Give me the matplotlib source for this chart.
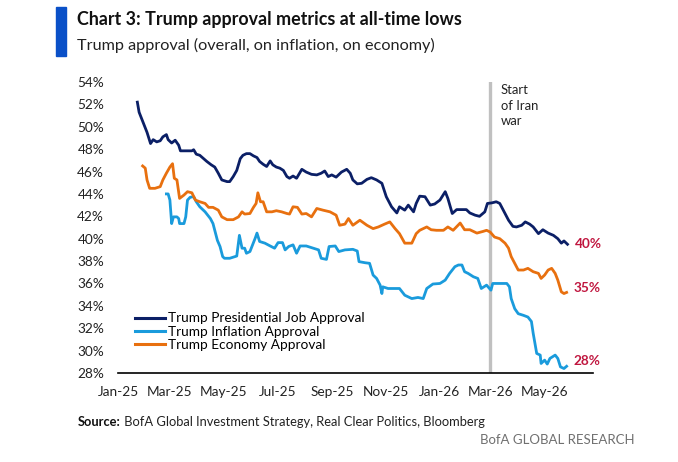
import matplotlib
matplotlib.use("Agg")
import matplotlib.pyplot as plt
import matplotlib.dates as mdates
import pandas as pd
import numpy as np

plt.rcParams['font.family'] = ['Lato', 'DejaVu Sans']

BASE = "2025-01-01"

# Days since 2025-01-01 and approval values (%)
job_days = [22, 24, 27, 29, 33, 37, 40, 44, 48, 51, 55, 57, 61, 65, 69, 71, 78, 84, 86, 89, 93,
            101, 106, 110, 114, 118, 124, 127, 131, 135, 139, 142, 146, 150, 154, 158, 161, 165,
            169, 173, 176, 180, 184, 188, 192, 195, 199, 203, 209, 214, 220, 226, 231, 235, 239,
            243, 248, 254, 260, 264, 267, 272, 277, 283, 288, 294, 300, 305, 311, 317, 320, 326,
            330, 336, 339, 343, 349, 355, 360, 366, 372, 375, 380, 385, 391, 396, 400, 406, 411,
            417, 420, 425, 430, 434, 438, 444, 449, 453, 459, 463, 468, 472, 478, 483, 489, 495,
            500, 504, 507, 511]
job_vals = [52.2, 51.3, 50.7, 50.3, 49.5, 48.5, 48.85, 48.65, 48.75, 49.1, 49.3, 48.85, 48.55,
            48.8, 48.35, 47.85, 47.85, 47.85, 47.95, 47.55, 47.45, 46.9, 46.6, 46.4, 45.85, 45.25,
            45.1, 45.1, 45.55, 46.1, 47.15, 47.45, 47.6, 47.6, 47.4, 47.25, 46.9, 46.65, 46.45,
            46.95, 46.6, 46.4, 46.3, 46.1, 45.55, 45.4, 45.6, 45.4, 46.2, 45.95, 45.75, 45.7,
            45.85, 46.05, 45.55, 45.7, 45.5, 45.95, 46.2, 45.85, 45.25, 44.9, 44.95, 45.3, 45.45,
            45.25, 44.95, 43.75, 42.85, 42.3, 42.85, 42.55, 43.0, 42.4, 43.15, 43.8, 43.75, 43.0,
            43.1, 43.45, 44.2, 43.6, 42.25, 42.6, 42.6, 42.6, 42.3, 42.1, 42.0, 42.4, 43.15, 43.2,
            43.3, 43.15, 42.55, 41.65, 41.1, 41.05, 41.2, 41.5, 41.3, 41.05, 40.45, 40.8, 40.5,
            40.3, 40.0, 39.6, 39.8, 39.5]

econ_days = [28, 31, 33, 36, 42, 48, 51, 55, 59, 62, 64, 67, 70, 75, 79, 84, 88, 93, 99, 103,
             108, 114, 118, 124, 131, 137, 141, 144, 150, 154, 157, 159, 162, 165, 169, 175, 180,
             186, 192, 195, 199, 204, 209, 214, 220, 226, 233, 241, 248, 252, 258, 262, 267, 275,
             283, 290, 296, 303, 309, 315, 320, 326, 334, 339, 343, 351, 356, 362, 370, 375, 381,
             389, 394, 400, 408, 415, 419, 423, 428, 434, 440, 444, 447, 451, 455, 461, 466, 472,
             478, 481, 485, 489, 493, 497, 500, 504, 507, 510]
econ_vals = [46.5, 46.3, 45.25, 44.5, 44.5, 44.65, 45.25, 45.85, 46.4, 46.7, 45.4, 45.25, 43.6,
             43.9, 44.2, 44.1, 43.45, 43.3, 43.15, 42.8, 42.8, 42.55, 41.95, 41.7, 41.7, 41.95,
             42.4, 42.2, 42.25, 42.8, 43.15, 44.1, 43.3, 43.3, 42.4, 42.4, 42.5, 42.4, 42.25, 42.2,
             42.85, 42.8, 42.2, 42.25, 41.95, 42.7, 42.55, 42.4, 42.1, 41.2, 41.3, 41.8, 41.2,
             41.65, 41.2, 40.9, 41.05, 41.3, 41.5, 40.9, 40.45, 39.6, 39.6, 40.45, 40.75, 41.05,
             40.8, 40.75, 40.75, 41.05, 40.75, 41.4, 40.8, 40.8, 40.5, 40.65, 40.75, 40.6, 40.15,
             40.0, 39.6, 39.15, 38.4, 37.8, 37.2, 37.2, 37.35, 37.05, 36.9, 36.45, 36.75, 37.2,
             37.35, 36.9, 36.3, 35.25, 35.1, 35.2]

infl_days = [55, 57, 59, 61, 63, 67, 69, 70, 75, 77, 79, 82, 86, 89, 93, 99, 105, 108, 110, 113,
             116, 119, 121, 127, 135, 138, 141, 144, 146, 150, 156, 158, 161, 167, 173, 178, 182,
             187, 190, 194, 199, 203, 207, 214, 222, 228, 231, 237, 240, 247, 251, 258, 267, 272,
             274, 281, 286, 290, 294, 298, 300, 301, 307, 315, 320, 326, 334, 341, 347, 351, 358,
             366, 372, 377, 383, 387, 391, 394, 398, 404, 409, 413, 419, 424, 426, 434, 442, 445,
             447, 451, 455, 461, 466, 470, 472, 474, 476, 480, 481, 485, 488, 491, 497, 500, 503,
             507, 510]
infl_vals = [44.0, 44.0, 43.45, 41.35, 41.95, 41.95, 41.8, 41.35, 41.35, 41.95, 43.45, 43.7,
             43.75, 43.3, 42.85, 42.4, 41.8, 41.35, 40.75, 39.85, 39.3, 38.4, 38.25, 38.25, 38.45,
             40.3, 39.15, 39.15, 38.7, 38.85, 40.05, 40.5, 39.75, 39.6, 39.35, 39.15, 39.65, 39.65,
             39.0, 39.3, 39.45, 38.7, 39.35, 39.35, 39.15, 39.0, 38.25, 38.15, 39.3, 39.35, 38.85,
             39.0, 39.05, 38.9, 37.95, 37.85, 37.8, 36.75, 36.45, 35.85, 35.1, 35.7, 35.55, 35.55,
             35.55, 34.95, 34.65, 34.75, 34.65, 35.55, 35.95, 36.0, 36.3, 36.9, 37.5, 37.65, 37.65,
             37.05, 36.9, 36.6, 36.45, 35.55, 35.85, 35.4, 36.0, 36.0, 36.0, 35.7, 34.65, 33.75,
             33.3, 33.15, 33.0, 32.6, 31.55, 30.65, 29.75, 29.6, 28.85, 29.15, 28.8, 29.3, 29.6,
             29.3, 28.55, 28.4, 28.6]

series_names = ["Trump Presidential Job Approval", "Trump Inflation Approval", "Trump Economy Approval"]
series_colors = ["#0B1F66", "#1A9BDC", "#E8700F"]
end_labels = ["40%", "35%", "28%"]
war_date = "2026-02-28"
war_text = "Start\nof Iran\nwar"

y_ticks = list(range(28, 56, 2))
x_tick_dates = ["2025-01-01", "2025-03-01", "2025-05-01", "2025-07-01", "2025-09-01",
                "2025-11-01", "2026-01-01", "2026-03-01", "2026-05-01"]

title = "Chart 3: Trump approval metrics at all-time lows"
subtitle = "Trump approval (overall, on inflation, on economy)"
source_bold = "Source:"
source_rest = " BofA Global Investment Strategy, Real Clear Politics, Bloomberg"
brand = "BofA GLOBAL RESEARCH"

def to_dates(days):
    return pd.Timestamp(BASE) + pd.to_timedelta(days, unit="D")

W, H = 678, 462
fig = plt.figure(figsize=(W / 100, H / 100), dpi=100)
ax = fig.add_axes([118 / W, 1 - 373 / H, (593 - 118) / W, (373 - 82) / H])

ax.axvline(pd.Timestamp(war_date), color="#C0C0C0", lw=2.4, zorder=1)

job_d = to_dates(job_days)
infl_d = to_dates(infl_days)
econ_d = to_dates(econ_days)
l1, = ax.plot(job_d, job_vals, color=series_colors[0], lw=2.0, label=series_names[0], zorder=3)
l2, = ax.plot(infl_d, infl_vals, color=series_colors[1], lw=2.0, label=series_names[1], zorder=3)
l3, = ax.plot(econ_d, econ_vals, color=series_colors[2], lw=2.0, label=series_names[2], zorder=3)

red = "#C0163F"
ax.annotate(end_labels[0], (job_d[-1], job_vals[-1]), xytext=(5, 0.5), textcoords="offset points",
            color=red, fontsize=9.8, va="center", ha="left", fontweight="bold")
ax.annotate(end_labels[1], (econ_d[-1], econ_vals[-1]), xytext=(5, 3.5), textcoords="offset points",
            color=red, fontsize=9.8, va="center", ha="left", fontweight="bold")
ax.annotate(end_labels[2], (infl_d[-1], infl_vals[-1]), xytext=(5, 3.5), textcoords="offset points",
            color=red, fontsize=9.8, va="center", ha="left", fontweight="bold")

ax.text(pd.Timestamp(war_date) + pd.Timedelta(days=12), 53.8, war_text, fontsize=9.4,
        color="#222222", va="top", ha="left", linespacing=1.35)

ax.set_ylim(28, 54)
ax.set_yticks(y_ticks)
ax.set_yticklabels([f"{v}%" for v in y_ticks])
ax.set_xlim(pd.Timestamp(BASE), pd.Timestamp(BASE) + pd.Timedelta(days=540))
ax.set_xticks([pd.Timestamp(d) for d in x_tick_dates])
ax.xaxis.set_major_formatter(mdates.DateFormatter("%b-%y"))
ax.tick_params(axis="both", length=0, labelsize=9.8, colors="#222222")
ax.tick_params(axis="y", pad=10)
ax.tick_params(axis="x", pad=9)
for s in ["top", "right", "left"]:
    ax.spines[s].set_visible(False)
ax.spines["bottom"].set_color("#000000")
ax.spines["bottom"].set_linewidth(1.2)

leg = ax.legend(handles=[l1, l2, l3], loc="lower left", bbox_to_anchor=(0.035, 0.075),
                frameon=False, fontsize=9.8, handlelength=2.2, handletextpad=0.25,
                labelspacing=0.1, borderpad=0, borderaxespad=0)
for line in leg.get_lines():
    line.set_linewidth(2.2)

# Header
fig.patches.append(plt.Rectangle((56 / W, 1 - 56 / H), 10 / W, 49 / H, transform=fig.transFigure,
                                 color="#0A50C8", zorder=5))
fig.text(77 / W, 1 - 19 / H, title, fontsize=12.9, fontweight="bold", color="#111111",
         va="center", ha="left")
fig.text(77 / W, 1 - 45 / H, subtitle, fontsize=11.7, color="#222222", va="center", ha="left")

t1 = fig.text(78 / W, 1 - 422 / H, source_bold, fontsize=9.3, fontweight="bold", color="#111111",
              va="center", ha="left")
fig.canvas.draw()
bb = t1.get_window_extent()
fig.text(bb.x1 / W, 1 - 422 / H, source_rest, fontsize=9.3, color="#222222", va="center", ha="left")
fig.text(634 / W, 1 - 440 / H, brand, fontsize=9.5, color="#707070", va="center", ha="right")

fig.savefig("out.png", dpi=100, facecolor="white")
